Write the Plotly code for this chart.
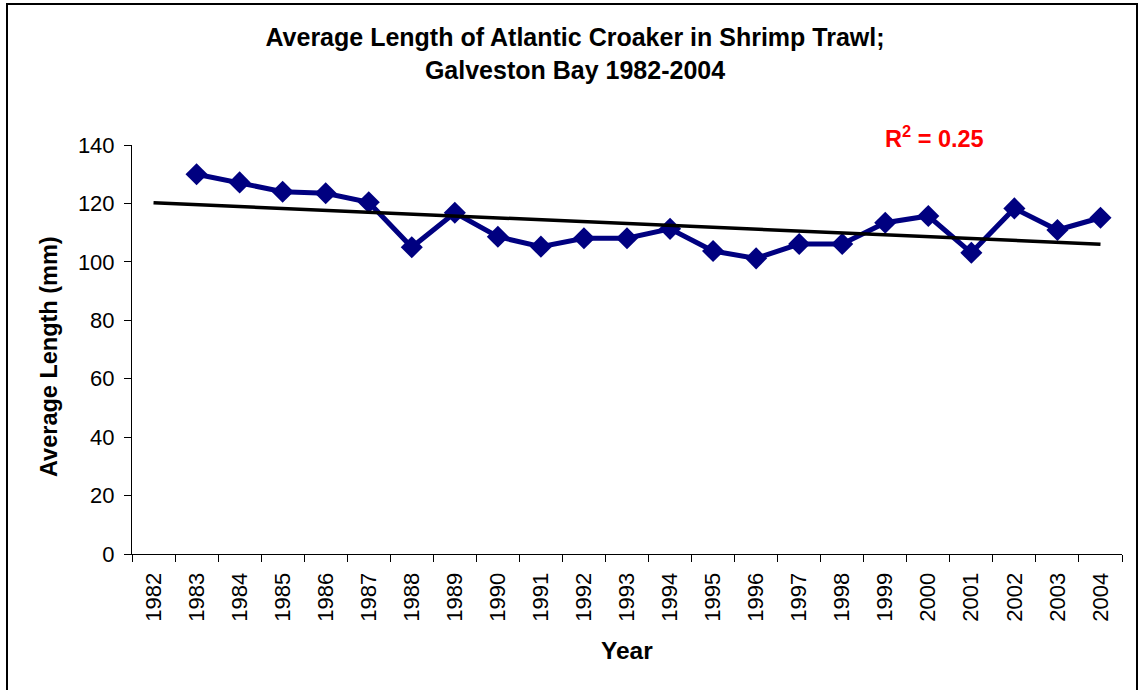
import numpy as np
import plotly.graph_objects as go

# ---- data ----
tick_years = [str(y) for y in range(1982, 2005)]
data_years = [str(y) for y in range(1983, 2005)]
avg_length = [130.0, 127.2, 124.0, 123.5, 120.4, 105.0, 116.8, 108.6, 105.2, 108.1, 108.1,
              111.3, 103.7, 101.2, 106.1, 106.1, 113.4, 115.7, 103.1, 118.3, 110.9, 115.1]
r2_text = "R<sup>2</sup> = 0.25"
title_text = "Average Length of Atlantic Croaker in Shrimp Trawl;<br>Galveston Bay 1982-2004"

# linear trend (category index, 1982 = 0) fitted on the data, drawn over full axis
idx = np.array([tick_years.index(y) for y in data_years], dtype=float)
slope, intercept = np.polyfit(idx, np.array(avg_length), 1)
trend_years = [tick_years[0], tick_years[-1]]
trend_vals = [intercept + slope * tick_years.index(y) for y in trend_years]

# body margin is removed by the post script, so page pixels = figure pixels
W, H = 1139, 690
ML, MT = 132, 145
MR = 17
MB = H - 554
PW, PH = W - ML - MR, H - MT - MB


def px(x):
    return (x - ML) / PW


def py(y):
    return (H - MB - y) / PH


FONT = "Liberation Sans, Arial, sans-serif"
NAVY = "#000080"

fig = go.Figure()
fig.add_trace(go.Scatter(
    x=data_years, y=avg_length, mode="lines+markers",
    line=dict(color=NAVY, width=5),
    marker=dict(symbol="diamond", size=17, color=NAVY, line=dict(width=0)),
    showlegend=False, hoverinfo="x+y"))
fig.add_trace(go.Scatter(
    x=trend_years, y=trend_vals, mode="lines",
    line=dict(color="black", width=3.5),
    showlegend=False, hoverinfo="skip"))

fig.update_layout(
    width=W, height=H,
    margin=dict(l=ML, r=MR, t=MT, b=MB, pad=0),
    paper_bgcolor="white", plot_bgcolor="white",
    font=dict(family=FONT, color="black"),
    title=dict(text="<b>" + title_text + "</b>", x=575 / W, xanchor="center",
               y=1 - 46 / H, yanchor="middle",
               font=dict(family=FONT, size=25, color="black")),
    xaxis=dict(type="category", categoryorder="array", categoryarray=tick_years,
               tickvals=tick_years, ticktext=tick_years,
               range=[-0.5, len(tick_years) - 0.5],
               tickson="boundaries", ticks="outside", ticklen=7, tickcolor="black",
               tickwidth=1, tickangle=-90, tickfont=dict(family=FONT, size=22),
               ticklabelstandoff=9,
               showline=True, linecolor="black", linewidth=1,
               showgrid=False, zeroline=False, mirror=False),
    yaxis=dict(range=[0, 140], dtick=20, tick0=0, ticks="outside", ticklen=7,
               tickcolor="black", tickwidth=1, tickfont=dict(family=FONT, size=22),
               ticklabelstandoff=5,
               showline=True, linecolor="black", linewidth=1,
               showgrid=False, zeroline=False),
    annotations=[
        dict(text="<b>" + r2_text + "</b>", xref="paper", yref="paper",
             x=px(934), y=py(137), xanchor="center", yanchor="middle",
             showarrow=False, font=dict(family=FONT, size=23.5, color="red")),
        dict(text="<b>Average Length (mm)</b>", xref="paper", yref="paper",
             x=px(49), y=py(357), xanchor="center", yanchor="middle", textangle=-90,
             showarrow=False, font=dict(family=FONT, size=23.5, color="black")),
        dict(text="<b>Year</b>", xref="paper", yref="paper",
             x=px(627), y=py(650), xanchor="center", yanchor="middle",
             showarrow=False, font=dict(family=FONT, size=24.5, color="black")),
    ],
    shapes=[
        dict(type="rect", xref="paper", yref="paper",
             x0=px(7), x1=px(1137), y0=py(700), y1=py(4),
             line=dict(color="black", width=2), fillcolor="rgba(0,0,0,0)", layer="above"),
    ],
)

fig.write_html("out.html",
               config={"displayModeBar": False},
               post_script="document.body.style.margin='0';document.body.style.overflow='hidden';")
